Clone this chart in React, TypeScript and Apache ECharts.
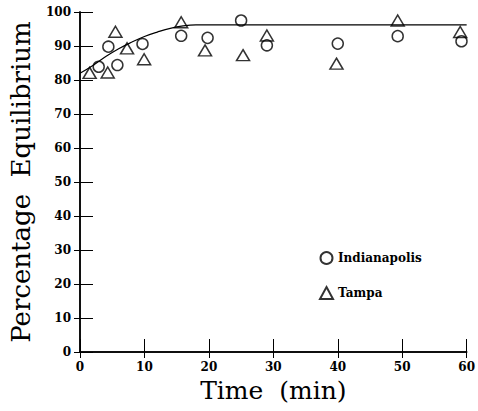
import React, { useEffect, useRef } from "react";
import * as echarts from "echarts";

const indyTime = [2.9, 4.4, 5.8, 9.7, 15.7, 19.8, 25.0, 29.0, 40.0, 49.3, 59.2];
const indyValue = [83.9, 89.8, 84.4, 90.6, 93.0, 92.4, 97.5, 90.2, 90.7, 92.9, 91.4];

const tampaTime = [1.5, 4.3, 5.5, 7.3, 9.95, 15.7, 19.4, 25.3, 29.0, 39.8, 49.3, 59.0];
const tampaValue = [82.1, 82.2, 94.2, 89.3, 86.1, 97.0, 88.7, 87.3, 93.1, 84.8, 97.5, 94.1];

const curveTime = [0, 2, 4, 6, 8, 10, 12, 14, 16, 18, 60];
const curveValue = [82.0, 84.3, 86.9, 89.2, 91.1, 92.8, 94.1, 95.2, 95.9, 96.2, 96.2];

const xTicks = [0, 10, 20, 30, 40, 50, 60];
const yTicks = [0, 10, 20, 30, 40, 50, 60, 70, 80, 90, 100];

const zip = (a: number[], b: number[]) => a.map((v, i) => [v, b[i]]);

export default function App() {
  const ref = useRef<HTMLDivElement>(null);
  useEffect(() => {
    if (!ref.current) return;
    const chart = echarts.init(ref.current, null, { renderer: "svg" });
    const serif = "DejaVu Serif";
    const tickLabel = { fontFamily: serif, fontWeight: "bold" as const, fontSize: 12, color: "#000" };
    chart.setOption({
      animation: false,
      backgroundColor: "#fff",
      grid: { left: 78, right: 10, top: 12, bottom: 59 },
      legend: {
        orient: "vertical",
        left: 314,
        top: 246,
        itemGap: 21,
        itemWidth: 13,
        itemHeight: 12,
        textStyle: { fontFamily: serif, fontWeight: "bold", fontSize: 12, color: "#000" },
        data: ["Indianapolis", "Tampa"],
      },
      xAxis: [
        {
          type: "value",
          min: 0,
          max: 60,
          interval: 10,
          name: "Time  (min)",
          nameLocation: "middle",
          nameGap: 26,
          nameTextStyle: { fontFamily: serif, fontSize: 25, color: "#000" },
          axisLine: { lineStyle: { color: "#000", width: 1.5 } },
          axisTick: { inside: true, length: 13, lineStyle: { color: "#000" } },
          axisLabel: { ...tickLabel, margin: 9, formatter: (v: number) => (xTicks.includes(v) ? String(v) : "") },
          splitLine: { show: false },
        },
        {
          type: "value",
          position: "top",
          min: 0,
          max: 60,
          interval: 10,
          axisLine: { show: true, lineStyle: { color: "#000", width: 1.5 } },
          axisTick: { inside: true, length: 6, lineStyle: { color: "#000" } },
          axisLabel: { show: false },
          splitLine: { show: false },
        },
      ],
      yAxis: [
        {
          type: "value",
          min: 0,
          max: 100,
          interval: 10,
          name: "Percentage  Equilibrium",
          nameLocation: "middle",
          nameGap: 46,
          nameTextStyle: { fontFamily: serif, fontSize: 26, color: "#000" },
          axisLine: { show: true, lineStyle: { color: "#000", width: 1.5 } },
          axisTick: { inside: true, length: 13, lineStyle: { color: "#000" } },
          axisLabel: { ...tickLabel, margin: 9, formatter: (v: number) => (yTicks.includes(v) ? String(v) : "") },
          splitLine: { show: false },
        },
        {
          type: "value",
          position: "right",
          min: 0,
          max: 100,
          interval: 10,
          axisLine: { show: true, lineStyle: { color: "#000", width: 1.5 } },
          axisTick: { inside: true, length: 6, lineStyle: { color: "#000" } },
          axisLabel: { show: false },
          splitLine: { show: false },
        },
      ],
      series: [
        {
          name: "fit",
          type: "line",
          data: zip(curveTime, curveValue),
          smooth: 0.4,
          showSymbol: false,
          symbol: "none",
          lineStyle: { color: "#000", width: 1.2 },
          z: 1,
        },
        {
          name: "Indianapolis",
          type: "scatter",
          data: zip(indyTime, indyValue),
          symbol: "circle",
          symbolSize: 11,
          itemStyle: { color: "rgba(255,255,255,0)", borderColor: "#000", borderWidth: 1.5 },
          z: 3,
        },
        {
          name: "Tampa",
          type: "scatter",
          data: zip(tampaTime, tampaValue),
          symbol: "triangle",
          symbolSize: [13, 11],
          itemStyle: { color: "rgba(255,255,255,0)", borderColor: "#000", borderWidth: 1.5 },
          z: 3,
        },
      ],
    });
    return () => chart.dispose();
  }, []);
  return <div ref={ref} style={{ width: 478, height: 411, position: "absolute", left: 0, top: 0 }} />;
}
